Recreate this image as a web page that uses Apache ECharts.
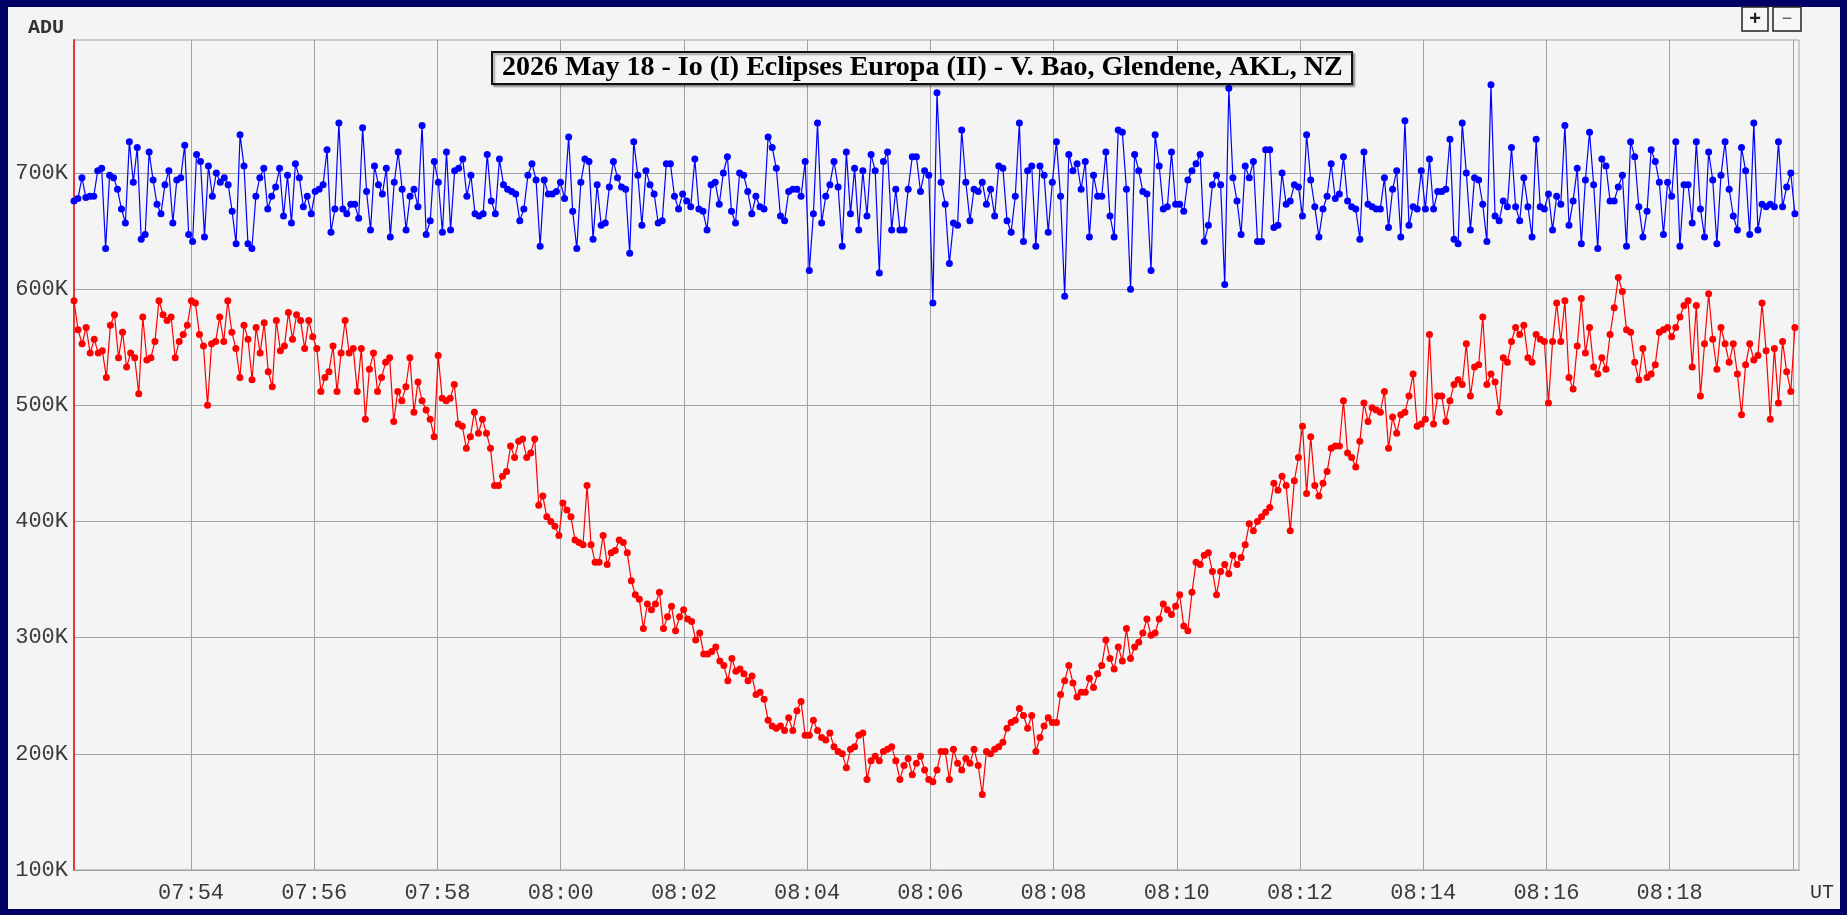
<!DOCTYPE html>
<html><head><meta charset="utf-8">
<script src="https://cdn.jsdelivr.net/npm/echarts@6/dist/echarts.min.js"></script>
<style>
html,body{margin:0;padding:0;background:#000066;overflow:hidden;width:1847px;height:915px}
#panel{position:absolute;left:8px;top:7px;width:1832px;height:902px;background:#f4f4f4}
#c{position:absolute;left:0;top:0;width:1847px;height:915px}
</style>
</head><body><div id="panel"></div><div id="c"></div>
<script>
const titleText = '2026 May 18 - Io (I) Eclipses Europa (II) - V. Bao, Glendene, AKL, NZ';
const xTickLabels = ['07:54','07:56','07:58','08:00','08:02','08:04','08:06','08:08','08:10','08:12','08:14','08:16','08:18'];
const xExtraGrid = ['08:20'];
const xRange = ['07:52:06','08:20:06'];
const yTicksK = [100,200,300,400,500,600,700];
const yRangeK = [100,814.5];
const yName = 'ADU';
const xName = 'UT';

// time span (first, last sample) of each stretch of readings
const segTimes = [['07:52:06','07:57:41'],['07:57:45','08:03:22'],['08:03:26','08:09:03'],['08:09:07','08:14:42'],['08:14:46','08:20:02']];

// blue series, ADU in thousands
const blueSeg1 = [676,678,696,679,680,680,702,704,635,698,696,686,669,657,727,692,722,643,647,718,694,673,665,690,702,657,694,696,724,647,641,716,710,645,706,680,700,692,696,690,667,639,733,706,639,635,680,696,704,669,680,688,704,663,698,657,708,696,671,680,665,684,686,690,720,649,669,743,669,665,673,673,661,739,684,651,706,690,682,704,645,692,718,686,651,680,686,671];
const blueSeg2 = [741,647,659,710,692,649,718,651,702,704,712,680,698,665,663,665,716,676,665,712,690,686,684,682,659,669,698,708,694,637,694,682,682,684,692,678,731,667,635,692,712,710,643,690,655,657,688,710,696,688,686,631,727,698,655,702,690,682,657,659,708,708,680,669,682,676,671,712,669,667,651,690,692,673,700,714,667,657,700,698,684,665,680,671,669,731];
const blueSeg3 = [722,704,663,659,684,686,686,680,710,616,665,743,657,680,690,710,688,637,718,665,704,651,702,663,716,702,614,710,718,651,686,651,651,686,714,714,684,702,698,588,769,692,673,622,657,655,737,692,659,686,684,692,673,686,663,706,704,659,649,680,743,641,702,706,637,706,698,649,692,727,680,594,716,702,708,686,710,645,698,680,680,718,663,645,737];
const blueSeg4 = [735,686,600,716,702,684,682,616,733,706,669,671,718,673,673,667,694,702,708,716,641,655,690,698,690,604,773,696,676,647,706,696,710,641,641,720,720,653,655,700,673,676,690,688,663,733,694,671,645,669,680,708,678,682,714,676,671,669,643,718,673,671,669,669,696,653,686,702,645,745,655,671,669,702,669,712,669,684,684,686,729,643,639,743,700];
const blueSeg5 = [651,696,694,673,641,776,663,659,676,671,722,671,659,696,671,645,729,671,669,682,651,680,673,741,655,676,704,639,694,735,690,635,712,706,676,676,688,698,637,727,714,671,645,667,720,710,692,647,692,680,727,637,690,690,657,727,669,645,718,694,639,698,727,686,663,651,722,702,647,743,651,673,671,673,671,727,671,688,700,665];

// red series, ADU in thousands
const redSeg1 = [590,565,553,567,545,557,545,547,524,569,578,541,563,533,545,541,510,576,539,541,555,590,578,573,576,541,555,561,569,590,588,561,551,500,553,555,576,555,590,563,549,524,569,557,522,567,545,571,529,516,573,547,551,580,557,578,573,549,573,559,549,512,524,529,551,512,545,573,545,549,512,549,488,531,545,512,524,537,541,486,512,504,516,541,494,520];
const redSeg2 = [504,496,488,473,543,506,504,506,518,484,482,463,473,494,476,488,476,463,431,431,439,443,465,455,469,471,455,459,471,414,422,404,400,396,388,416,410,404,384,382,380,431,380,365,365,388,363,373,375,384,382,373,349,337,333,308,329,324,329,339,308,318,327,306,318,324,316,314,298,304,286,286,288,292,280,276,263,282,271,273,269,263,267,251,253,247,229];
const redSeg3 = [224,222,224,220,231,220,237,245,216,216,229,220,214,212,218,206,202,200,188,204,206,216,218,178,194,198,194,202,204,206,194,178,190,196,182,192,198,186,178,176,186,202,202,178,204,192,186,196,192,204,190,165,202,200,204,206,210,222,227,229,239,233,222,233,202,214,224,231,227,227,251,263,276,261,249,253,253,265,257,269,276,298,282,273,292];
const redSeg4 = [280,308,282,292,296,304,316,302,304,316,329,324,320,327,337,310,306,339,365,363,371,373,357,337,357,363,355,371,363,369,380,398,392,400,404,408,412,433,427,439,431,392,435,455,482,424,473,431,422,433,443,463,465,465,504,459,455,447,469,502,486,498,496,494,512,463,490,476,492,494,508,527,482,484,488,561,484,508,508,486,504,518,522,518,553];
const redSeg5 = [508,533,535,576,518,527,520,494,541,537,555,567,561,569,541,537,561,557,555,502,555,588,555,590,524,514,551,592,545,567,533,527,541,531,561,584,610,598,565,563,537,522,549,524,527,535,563,565,567,559,567,576,586,590,533,586,508,553,596,557,531,567,553,537,553,527,492,535,553,539,543,588,547,488,549,502,555,529,512,567];

const blueSegs = [blueSeg1, blueSeg2, blueSeg3, blueSeg4, blueSeg5];
const redSegs = [redSeg1, redSeg2, redSeg3, redSeg4, redSeg5];

function toSec(s) { const p = s.split(':').map(Number); return p[0]*3600 + p[1]*60 + (p[2] || 0); }
function fmt(sec) { const h = Math.floor(sec/3600), m = Math.floor((sec%3600)/60); return String(h).padStart(2,'0') + ':' + String(m).padStart(2,'0'); }
function build(segs) {
  const out = [];
  segs.forEach((arr, k) => {
    const t0 = toSec(segTimes[k][0]), t1 = toSec(segTimes[k][1]);
    const n = arr.length;
    arr.forEach((v, j) => out.push([t0 + j*(t1 - t0)/(n - 1), v]));
  });
  return out;
}

const xLabelVals = xTickLabels.map(toSec);
const xGridVals = xTickLabels.concat(xExtraGrid).map(toSec);
const gridColor = '#a2a2a2';
const monoFont = 'Liberation Mono';

const chart = echarts.init(document.getElementById('c'), null, {renderer: 'canvas'});
chart.setOption({
  backgroundColor: 'transparent',
  animation: false,
  title: {
    text: titleText, left: 492, top: 52, padding: [2, 10],
    backgroundColor: '#f4f4f4', borderColor: '#111', borderWidth: 2,
    shadowColor: 'rgba(0,0,0,0.35)', shadowOffsetX: 2, shadowOffsetY: 2, shadowBlur: 2,
    textStyle: {fontFamily: 'Liberation Serif', fontWeight: 'bold', fontSize: 28, color: '#000'}
  },
  grid: {left: 74, top: 40, right: 48, bottom: 45, show: true, backgroundColor: '#f4f4f4', borderColor: gridColor, borderWidth: 1},
  xAxis: {
    type: 'value', min: toSec(xRange[0]), max: toSec(xRange[1]),
    axisLine: {show: true, lineStyle: {color: gridColor, width: 1}},
    axisTick: {show: false, customValues: xGridVals},
    axisLabel: {customValues: xLabelVals, formatter: v => fmt(v), fontFamily: monoFont, fontSize: 22, color: '#3a3a3a', margin: 12},
    splitLine: {show: true, lineStyle: {color: gridColor, width: 1}}
  },
  yAxis: {
    type: 'value', min: yRangeK[0], max: yRangeK[1],
    axisLine: {show: true, lineStyle: {color: '#e03a3a', width: 2}},
    axisTick: {show: false, customValues: yTicksK},
    axisLabel: {customValues: yTicksK, formatter: v => v + 'K', fontFamily: monoFont, fontSize: 22, color: '#3a3a3a', margin: 6},
    splitLine: {show: true, lineStyle: {color: gridColor, width: 1}}
  },
  graphic: [
    {type: 'text', left: 28, top: 18, style: {text: yName, fontFamily: monoFont, fontWeight: 'bold', fontSize: 20, fill: '#333'}},
    {type: 'text', left: 1810, top: 883, style: {text: xName, fontFamily: monoFont, fontSize: 20, fill: '#333'}},
    {type: 'rect', shape: {x: 1742, y: 7, width: 26, height: 24}, style: {fill: '#f7f7f7', stroke: '#222', lineWidth: 1.5}},
    {type: 'text', x: 1755, y: 19, style: {text: '+', fontFamily: 'Liberation Sans', fontWeight: 'bold', fontSize: 20, fill: '#222', align: 'center', verticalAlign: 'middle'}},
    {type: 'rect', shape: {x: 1773, y: 7, width: 28, height: 24}, style: {fill: '#f7f7f7', stroke: '#222', lineWidth: 1.5}},
    {type: 'text', x: 1787, y: 19, style: {text: '\u2212', fontFamily: 'Liberation Sans', fontSize: 18, fill: '#555', align: 'center', verticalAlign: 'middle'}}
  ],
  series: [
    {type: 'line', name: 'Io', data: build(blueSegs), symbol: 'circle', symbolSize: 7, showSymbol: true,
     lineStyle: {color: '#0000ff', width: 1.2}, itemStyle: {color: '#0000ff'}, emphasis: {disabled: true}},
    {type: 'line', name: 'Europa', data: build(redSegs), symbol: 'circle', symbolSize: 7, showSymbol: true,
     lineStyle: {color: '#ff0000', width: 1.2}, itemStyle: {color: '#ff0000'}, emphasis: {disabled: true}}
  ]
});
</script>
</body></html>
